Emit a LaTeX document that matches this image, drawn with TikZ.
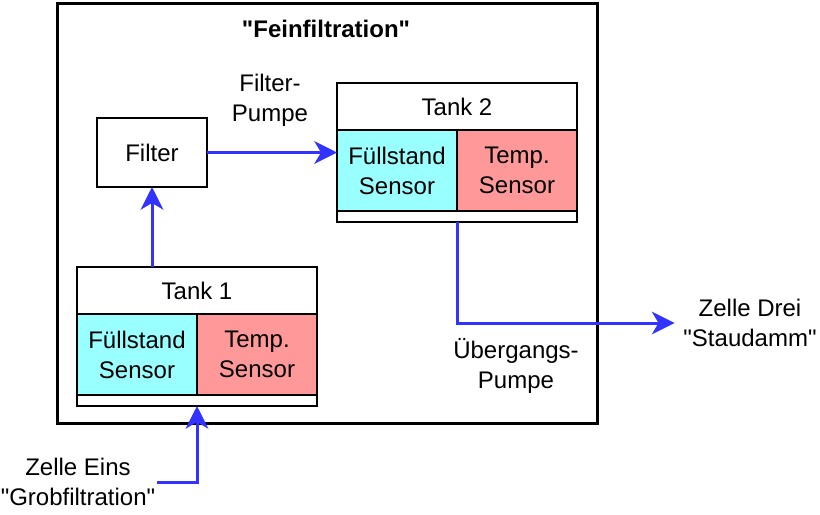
\documentclass[tikz,border=0pt]{standalone}
\usepackage{fontspec}
\setmainfont{Liberation Sans}
\usepackage{xcolor}
\usetikzlibrary{arrows.meta,positioning}

\definecolor{levelcyan}{HTML}{99FFFF}
\definecolor{tempred}{HTML}{FF9999}
\definecolor{pipeblue}{HTML}{3333FF}
\newcommand{\qname}[1]{\textquotedbl#1\textquotedbl}

\begin{document}
\begin{tikzpicture}[x=0.75pt,y=-0.75pt,
  txt/.style={inner sep=1pt,align=center,font=\fontsize{18}{22.5}\selectfont},
  part/.style={txt,draw,line width=1.5pt,inner sep=0pt,outer sep=0pt},
  head/.style={part,minimum width=180pt,minimum height=35.25pt},
  sensor/.style={part,minimum width=90pt,minimum height=60.75pt},
  strip/.style={part,minimum width=180pt,minimum height=8.25pt},
  flow/.style={pipeblue,line width=2.25pt,-{Stealth[length=17pt,width=17pt,inset=5pt]}}]
\useasboundingbox (0,0) rectangle (820,514);
% ----- cell frame -----
\draw[line width=2.25pt] (57,3) rectangle (597,423);
\node[txt,font=\fontsize{18}{22.5}\selectfont\bfseries] (title) at (326,29) {\qname{Feinfiltration}};
% ----- filter -----
\node[part,minimum width=82.5pt,minimum height=51.75pt] (filter) at (152,152.5) {Filter};
% ----- tank 1 -----
\begin{scope}[shift={(77,267)}]
\node[head,anchor=north west] (t1head) at (0,0) {Tank 1};
\node[sensor,fill=levelcyan,anchor=north west] (t1level) at (t1head.south west) {Füllstand\\Sensor};
\node[sensor,fill=tempred,anchor=north west] (t1temp) at (t1level.north east) {Temp.\\Sensor};
\node[strip,anchor=north west] (t1base) at (t1level.south west) {};
\end{scope}
% ----- tank 2 -----
\begin{scope}[shift={(337,83)}]
\node[head,anchor=north west] (t2head) at (0,0) {Tank 2};
\node[sensor,fill=levelcyan,anchor=north west] (t2level) at (t2head.south west) {Füllstand\\Sensor};
\node[sensor,fill=tempred,anchor=north west] (t2temp) at (t2level.north east) {Temp.\\Sensor};
\node[strip,anchor=north west] (t2base) at (t2level.south west) {};
\end{scope}
% ----- labels outside -----
\node[txt] (filterpump) at (270,100) {Filter-\\Pumpe};
\node[txt] (transpump) at (516,366) {Übergangs-\\Pumpe};
\node[txt,inner sep=6.5pt] (drei) at (750,323) {Zelle Drei\\\qname{Staudamm}};
\node[txt] (eins) at (78,482) {Zelle Eins\\\qname{Grobfiltration}};
% ----- pipes -----
\draw[flow] (eins.east) -| (t1base.south);
\draw[flow] (filter.south |- t1head.north) -- (filter.south);
\draw[flow] (filter.east) -- (filter.east -| t2level.west);
\draw[flow] (t2base.south) |- (drei.west);
\end{tikzpicture}
\end{document}
